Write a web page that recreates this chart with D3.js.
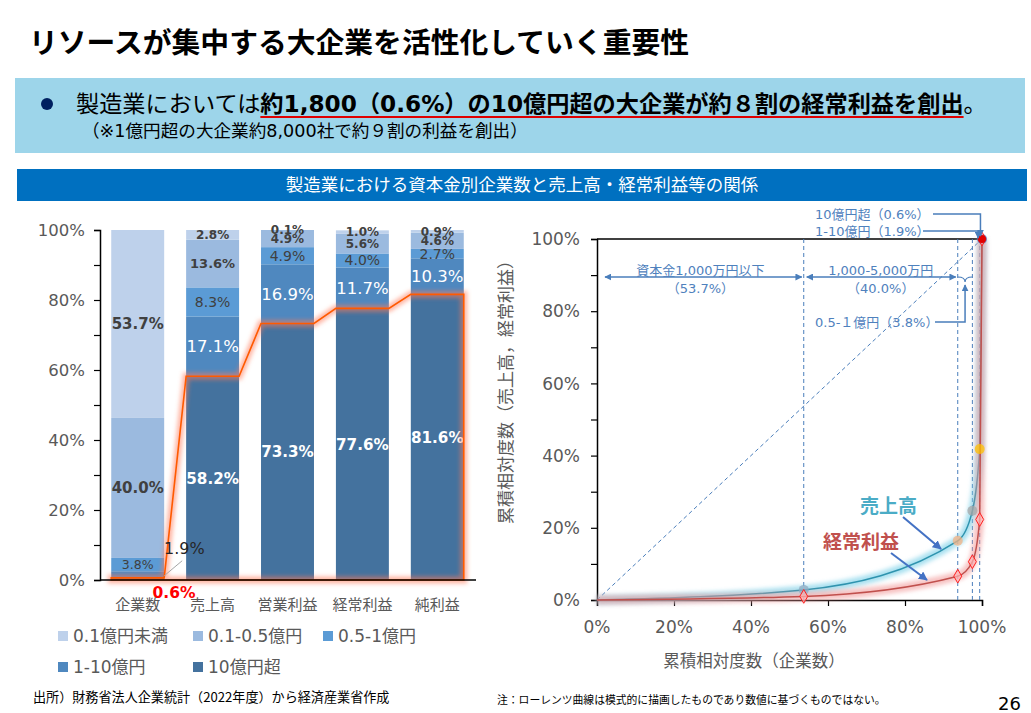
<!DOCTYPE html>
<html lang="ja">
<head>
<meta charset="utf-8">
<script src="https://cdn.jsdelivr.net/npm/d3@7"></script>
<style>
  body { margin: 0; background: #fff; }
  svg { display: block; font-family: "DejaVu Sans", "Noto Sans CJK JP", sans-serif; }
</style>
</head>
<body>
<svg id="chart"></svg>
<script>
// ---- data ----
const categories = ["企業数", "売上高", "営業利益", "経常利益", "純利益"];
const sizeClasses = ["0.1億円未満", "0.1-0.5億円", "0.5-1億円", "1-10億円", "10億円超"];
const shareLt01 = [53.7, 2.8, 0.1, 1.0, 0.9];
const share01to05 = [40.0, 13.6, 4.9, 5.6, 4.6];
const share05to1 = [3.8, 8.3, 4.9, 4.0, 2.7];
const share1to10 = [1.9, 17.1, 16.9, 11.7, 10.3];
const shareOver10 = [0.6, 58.2, 73.3, 77.6, 81.6];
const yTicksLeft = [0, 20, 40, 60, 80, 100];

// lorenz curve (cumulative %, small -> large firms)
const lorenzFirms = [0, 53.7, 93.7, 97.5, 99.4, 100];
const lorenzSales = [0, 2.8, 16.4, 24.7, 41.8, 100];
const lorenzProfit = [0, 1.0, 6.6, 10.6, 22.3, 100];
const xTicksRight = [0, 20, 40, 60, 80, 100];
const yTicksRight = [0, 20, 40, 60, 80, 100];

const W = 1031, H = 713;
const gray = "#595959";
const svg = d3.select("#chart").attr("width", W).attr("height", H);

const defs = svg.append("defs");
defs.append("filter").attr("id", "glow")
  .attr("x", "-20%").attr("y", "-20%").attr("width", "140%").attr("height", "140%")
  .append("feGaussianBlur").attr("stdDeviation", 2.2);
defs.append("marker").attr("id", "arr")
  .attr("viewBox", "0 0 10 10").attr("refX", 9).attr("refY", 5)
  .attr("markerWidth", 7).attr("markerHeight", 7)
  .attr("orient", "auto-start-reverse").attr("markerUnits", "userSpaceOnUse")
  .append("path").attr("d", "M0,0L10,5L0,10z").attr("fill", "#4A7EBB");
defs.append("marker").attr("id", "arrBig")
  .attr("viewBox", "0 0 10 10").attr("refX", 9).attr("refY", 5)
  .attr("markerWidth", 9).attr("markerHeight", 9)
  .attr("orient", "auto").attr("markerUnits", "userSpaceOnUse")
  .append("path").attr("d", "M0,0L10,5L0,10z").attr("fill", "#4472C4");

// ---- header ----
svg.append("text").attr("x", 29).attr("y", 53)
  .attr("font-family", "Noto Sans CJK JP").attr("font-weight", 700)
  .attr("font-size", 28.8).attr("fill", "#000")
  .text("リソースが集中する大企業を活性化していく重要性");

svg.append("rect").attr("x", 15).attr("y", 78).attr("width", 1010).attr("height", 75)
  .attr("fill", "#9DD5EA");
svg.append("circle").attr("cx", 47).attr("cy", 104).attr("r", 6).attr("fill", "#002060");

const lead = svg.append("text").attr("x", 76).attr("y", 112)
  .attr("font-size", 23.2).attr("fill", "#000");
lead.append("tspan").attr("font-family", "Noto Sans CJK JP").text("製造業においては");
const boldPart = lead.append("tspan").attr("font-weight", 700)
  .text("約1,800（0.6%）の10億円超の大企業が約８割の経常利益を創出");
lead.append("tspan").attr("font-family", "Noto Sans CJK JP").text("。");
const bx = boldPart.node().getStartPositionOfChar(0).x;
const bw = boldPart.node().getComputedTextLength();
svg.append("line").attr("x1", bx).attr("x2", bx + bw).attr("y1", 117).attr("y2", 117)
  .attr("stroke", "#E00000").attr("stroke-width", 2);

svg.append("text").attr("x", 82).attr("y", 137).attr("font-size", 17.6).attr("fill", "#000")
  .text("（※1億円超の大企業約8,000社で約９割の利益を創出）");

svg.append("rect").attr("x", 17).attr("y", 169).attr("width", 1010).attr("height", 32)
  .attr("fill", "#0070C0");
svg.append("text").attr("x", 522).attr("y", 191).attr("text-anchor", "middle")
  .attr("font-family", "Noto Sans CJK JP").attr("font-size", 17.5).attr("fill", "#fff")
  .text("製造業における資本金別企業数と売上高・経常利益等の関係");

// ---- left: stacked bars ----
const keys = ["over10", "b1to10", "b05to1", "b01to05", "lt01"];
const colors = { over10: "#44729E", b1to10: "#4F88BF", b05to1: "#5B9BD5", b01to05: "#9BBADF", lt01: "#BED1EB" };
const rows = categories.map((c, i) => ({
  cat: c, i: i,
  over10: shareOver10[i], b1to10: share1to10[i], b05to1: share05to1[i],
  b01to05: share01to05[i], lt01: shareLt01[i]
}));
const stacked = d3.stack().keys(keys)(rows);

const xL = d3.scaleBand().domain(categories).range([100, 475]).paddingInner(0.293).paddingOuter(0.15);
const yL = d3.scaleLinear().domain([0, 100]).range([580, 230]);
const left = svg.append("g");

stacked.forEach(s => {
  left.append("g").selectAll("rect").data(s).join("rect")
    .attr("x", d => xL(d.data.cat)).attr("width", xL.bandwidth())
    .attr("y", d => yL(Math.min(d[1], 100)))
    .attr("height", d => yL(d[0]) - yL(Math.min(d[1], 100)))
    .attr("fill", colors[s.key]);
});

function labelStyle(key, v, i) {
  if (key === "over10") return i === 0 ? null : { fill: "#fff", w: 700, size: 15.2 };
  if (key === "b1to10") return i === 0 ? null : { fill: "#fff", w: 400, size: 16.5 };
  if (key === "b05to1") return { fill: "#404040", w: 400, size: i === 0 ? 12.5 : 14 };
  if (key === "b01to05") return { fill: "#404040", w: 700, size: v >= 30 ? 15 : v >= 10 ? 13 : 12 };
  return { fill: "#404040", w: 700, size: v >= 30 ? 15 : 12 };
}
stacked.forEach(s => {
  s.forEach(d => {
    const v = d.data[s.key];
    const st = labelStyle(s.key, v, d.data.i);
    if (!st) return;
    left.append("text")
      .attr("x", xL(d.data.cat) + xL.bandwidth() / 2)
      .attr("y", yL((d[0] + d[1]) / 2))
      .attr("dy", "0.36em").attr("text-anchor", "middle")
      .attr("font-size", st.size).attr("font-weight", st.w).attr("fill", st.fill)
      .text(v.toFixed(1) + "%");
  });
});

// orange outline of the 10億円超 share
const bwL = xL.bandwidth();
const outline = categories.flatMap((c, i) => [[xL(c), yL(shareOver10[i])], [xL(c) + bwL, yL(shareOver10[i])]]);
outline.push([xL(categories[4]) + bwL, yL(0)], [xL(categories[0]), yL(0)]);
const poly = d3.line()(outline) + "Z";
left.append("path").attr("d", poly).attr("fill", "none")
  .attr("stroke", "#FF7A5A").attr("stroke-width", 7).attr("stroke-opacity", 0.55)
  .attr("filter", "url(#glow)");
left.append("path").attr("d", poly).attr("fill", "none")
  .attr("stroke", "#FF5A00").attr("stroke-width", 1.6);

// external labels for 企業数
left.append("line").attr("x1", xL(categories[0]) + bwL).attr("y1", yL(1.2))
  .attr("x2", xL(categories[0]) + bwL + 18).attr("y2", yL(5.5))
  .attr("stroke", "#A6A6A6").attr("stroke-width", 1);
left.append("text").attr("x", 164).attr("y", yL(9.1)).attr("dy", "0.36em")
  .attr("font-size", 16).attr("fill", "#262626").text(share1to10[0].toFixed(1) + "%");
left.append("text").attr("x", 174).attr("y", 592).attr("dy", "0.36em").attr("text-anchor", "middle")
  .attr("font-size", 15.5).attr("font-weight", 700).attr("fill", "#FF0000")
  .text(shareOver10[0].toFixed(1) + "%");

// axes
const yAxisL = left.append("g").attr("transform", "translate(100,0)")
  .call(d3.axisLeft(yL).tickValues(d3.range(0, 101, 10)).tickSize(6).tickFormat(""));
yAxisL.select(".domain").attr("stroke", "#000").attr("stroke-width", 1.5);
yAxisL.selectAll("line").attr("stroke", "#000").attr("stroke-width", 1.2);
left.selectAll(".ytl").data(yTicksLeft).join("text")
  .attr("x", 85).attr("y", d => yL(d)).attr("dy", "0.36em").attr("text-anchor", "end")
  .attr("font-size", 16.5).attr("fill", gray).text(d => d + "%");
left.append("line").attr("x1", 100).attr("x2", 476).attr("y1", yL(0)).attr("y2", yL(0))
  .attr("stroke", "#000").attr("stroke-width", 1.5);
left.selectAll(".xtl").data(categories).join("text")
  .attr("x", d => xL(d) + bwL / 2).attr("y", 610).attr("text-anchor", "middle")
  .attr("font-family", "Noto Sans CJK JP").attr("font-size", 15).attr("fill", gray).text(d => d);

// legend
const legendPos = [[58, 636], [193, 636], [323, 636], [58, 667], [193, 667]];
const legendKeys = ["lt01", "b01to05", "b05to1", "b1to10", "over10"];
sizeClasses.forEach((name, i) => {
  const [lx, ly] = legendPos[i];
  left.append("rect").attr("x", lx).attr("y", ly - 5).attr("width", 10).attr("height", 10)
    .attr("fill", colors[legendKeys[i]]);
  left.append("text").attr("x", lx + 15).attr("y", ly).attr("dy", "0.36em")
    .attr("font-size", 17).attr("fill", gray).text(name);
});

svg.append("text").attr("x", 33).attr("y", 702).attr("font-family", "Noto Sans CJK JP")
  .attr("font-size", 13.1).attr("fill", "#000").text("出所）財務省法人企業統計（2022年度）から経済産業省作成");

// ---- right: lorenz curves ----
const xR = d3.scaleLinear().domain([0, 100]).range([597, 982]);
const yR = d3.scaleLinear().domain([0, 100]).range([600, 239]);
const right = svg.append("g");
const blue = "#4A7EBB";

// frame / axes
const yAxisR = right.append("g").attr("transform", "translate(597,0)")
  .call(d3.axisLeft(yR).tickValues(d3.range(0, 101, 10)).tickSize(6).tickFormat(""));
const xAxisR = right.append("g").attr("transform", "translate(0,600)")
  .call(d3.axisBottom(xR).tickValues(xTicksRight).tickSize(6).tickFormat(""));
[yAxisR, xAxisR].forEach(a => {
  a.select(".domain").attr("stroke", "#000").attr("stroke-width", 1.5);
  a.selectAll("line").attr("stroke", "#000").attr("stroke-width", 1.2);
});
right.append("line").attr("x1", xR(0)).attr("x2", xR(100)).attr("y1", yR(100)).attr("y2", yR(100))
  .attr("stroke", "#000").attr("stroke-width", 1.5);
right.selectAll(".ytr").data(yTicksRight).join("text")
  .attr("x", 580).attr("y", d => yR(d)).attr("dy", "0.36em").attr("text-anchor", "end")
  .attr("font-size", 17).attr("fill", gray).text(d => d + "%");
right.selectAll(".xtr").data(xTicksRight).join("text")
  .attr("x", d => xR(d)).attr("y", 627).attr("dy", "0.36em").attr("text-anchor", "middle")
  .attr("font-size", 17).attr("fill", gray).text(d => d + "%");
right.append("text").attr("x", 754).attr("y", 661).attr("dy", "0.36em").attr("text-anchor", "middle")
  .attr("font-family", "Noto Sans CJK JP").attr("font-size", 16.5).attr("fill", gray)
  .text("累積相対度数（企業数）");
right.append("text").attr("transform", "translate(506,388) rotate(-90)")
  .attr("dy", "0.36em").attr("text-anchor", "middle")
  .attr("font-family", "Noto Sans CJK JP").attr("font-size", 17).attr("fill", gray)
  .text("累積相対度数（売上高，経常利益）");

// guides
right.append("line").attr("x1", xR(0)).attr("y1", yR(0)).attr("x2", xR(100)).attr("y2", yR(100))
  .attr("stroke", blue).attr("stroke-width", 1).attr("stroke-dasharray", "4,3");
right.selectAll(".vguide").data(lorenzFirms.slice(1, 5)).join("line")
  .attr("x1", d => xR(d)).attr("x2", d => xR(d)).attr("y1", yR(100)).attr("y2", yR(0))
  .attr("stroke", blue).attr("stroke-width", 1).attr("stroke-dasharray", "4,3");

// curves
const pts = ys => lorenzFirms.map((f, i) => [xR(f), yR(ys[i])]);
const curve = d3.line().curve(d3.curveMonotoneX);
function drawCurve(ys, glowColor, lineColor) {
  right.append("path").attr("d", curve(pts(ys))).attr("fill", "none")
    .attr("stroke", glowColor).attr("stroke-width", 9).attr("stroke-opacity", 0.6)
    .attr("filter", "url(#glow)");
  right.append("path").attr("d", curve(pts(ys))).attr("fill", "none")
    .attr("stroke", lineColor).attr("stroke-width", 1.5);
}
drawCurve(lorenzSales, "#6FCDE6", "#2E93AE");
drawCurve(lorenzProfit, "#F29A9A", "#C0504D");

// markers
const salesMarkColors = ["#9DB7D0", "#8EA9C1", "#F4B183", "#A5A5A5", "#FFC000", "#4472C4"];
lorenzFirms.forEach((f, i) => {
  if (i === 0) return;
  right.append("circle").attr("cx", xR(f)).attr("cy", yR(lorenzSales[i])).attr("r", 5)
    .attr("fill", salesMarkColors[i]).attr("fill-opacity", 0.75);
  right.append("path").attr("transform", `translate(${xR(f)},${yR(lorenzProfit[i])})`)
    .attr("d", d3.symbol(d3.symbolDiamond, 55)())
    .attr("fill", "#FFB3B3").attr("fill-opacity", 0.7).attr("stroke", "#FF2020").attr("stroke-width", 1);
});
right.append("circle").attr("cx", xR(100)).attr("cy", yR(100)).attr("r", 4).attr("fill", "#E00000");

// curve labels
right.append("text").attr("x", 860).attr("y", 513).attr("font-family", "Noto Sans CJK JP")
  .attr("font-weight", 700).attr("font-size", 19).attr("fill", "#4BACC6").text("売上高");
right.append("line").attr("x1", 903).attr("y1", 517).attr("x2", 941).attr("y2", 549)
  .attr("stroke", "#4472C4").attr("stroke-width", 2).attr("marker-end", "url(#arrBig)");
right.append("text").attr("x", 823).attr("y", 549).attr("font-family", "Noto Sans CJK JP")
  .attr("font-weight", 700).attr("font-size", 19).attr("fill", "#C0504D").text("経常利益");
right.append("line").attr("x1", 891).attr("y1", 553).attr("x2", 927).attr("y2", 580)
  .attr("stroke", "#4472C4").attr("stroke-width", 2).attr("marker-end", "url(#arrBig)");

// span annotations
const annY = 277;
const spans = [
  { a: 0, b: lorenzFirms[1], t1: "資本金1,000万円以下", t2: "（53.7%）" },
  { a: lorenzFirms[1], b: lorenzFirms[2], t1: "1,000-5,000万円", t2: "（40.0%）" }
];
spans.forEach(s => {
  const x1 = xR(s.a) + (s.a === 0 ? 8 : 3), x2 = xR(s.b) - 2;
  right.append("line").attr("x1", x1).attr("x2", x2).attr("y1", annY).attr("y2", annY)
    .attr("stroke", blue).attr("stroke-width", 1.5)
    .attr("marker-start", "url(#arr)").attr("marker-end", "url(#arr)");
  const mx = (xR(s.a) + xR(s.b)) / 2;
  right.append("text").attr("x", mx).attr("y", annY - 2).attr("text-anchor", "middle")
    .attr("font-size", 13).attr("fill", "#4F81BD").text(s.t1);
  right.append("text").attr("x", mx).attr("y", annY + 16).attr("text-anchor", "middle")
    .attr("font-size", 13).attr("fill", "#4F81BD").text(s.t2);
});
const b0 = xR(lorenzFirms[2]), b1 = xR(lorenzFirms[3]), bm = (b0 + b1) / 2;
right.append("path")
  .attr("d", `M${b0},${annY}Q${bm},${annY} ${bm},${annY + 5}Q${bm},${annY} ${b1},${annY}`)
  .attr("fill", "none").attr("stroke", blue).attr("stroke-width", 1.2);
right.append("text").attr("x", 815).attr("y", 327).attr("font-size", 13).attr("fill", "#4F81BD")
  .text("0.5-１億円（3.8%）");
right.append("path").attr("d", `M935,322H${bm}V${annY + 8}`).attr("fill", "none")
  .attr("stroke", blue).attr("stroke-width", 1.5).attr("marker-end", "url(#arr)");

right.append("text").attr("x", 815).attr("y", 219).attr("font-size", 13).attr("fill", "#4F81BD")
  .text("10億円超（0.6%）");
right.append("path").attr("d", `M933,214H${xR(99.6)}V${yR(100) - 3}`).attr("fill", "none")
  .attr("stroke", blue).attr("stroke-width", 1.5).attr("marker-end", "url(#arr)");
right.append("text").attr("x", 815).attr("y", 236).attr("font-size", 13).attr("fill", "#4F81BD")
  .text("1-10億円（1.9%）");
right.append("path").attr("d", `M923,231H${xR(99.0)}V${yR(100) - 1}`).attr("fill", "none")
  .attr("stroke", blue).attr("stroke-width", 1.5).attr("marker-end", "url(#arr)");

// footer
svg.append("text").attr("x", 497).attr("y", 704).attr("font-family", "Noto Sans CJK JP")
  .attr("font-size", 10.8).attr("fill", "#000")
  .text("注：ローレンツ曲線は模式的に描画したものであり数値に基づくものではない。");
svg.append("text").attr("x", 1021).attr("y", 710).attr("text-anchor", "end")
  .attr("font-size", 18).attr("fill", "#000").text("26");
</script>
</body>
</html>
